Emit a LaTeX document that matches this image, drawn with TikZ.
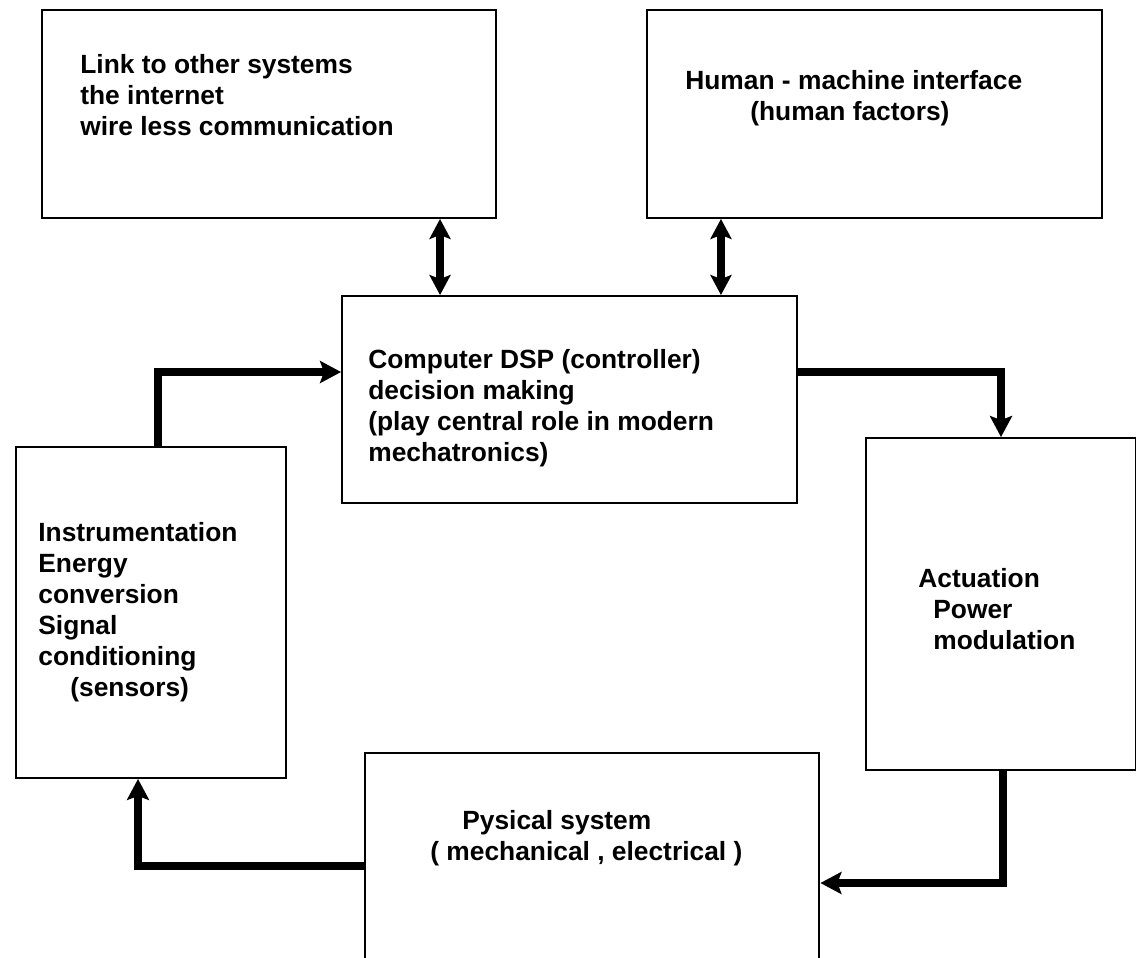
\documentclass[tikz,border=0pt]{standalone}
\usepackage{fontspec}
\setmainfont{Liberation Sans}
\usetikzlibrary{arrows.meta}
\begin{document}
\begin{tikzpicture}[x=0.02cm,y=-0.02cm,
	box/.style={draw,line width=1.1pt,minimum width=9.1cm,inner sep=0pt},
	txt/.style={inner sep=0pt,anchor=base west,align=left,font=\fontsize{15}{17.6}\selectfont\bfseries},
	flow/.style={line width=4.5pt,-{Stealth[length=0.42cm,width=0.44cm,inset=0.08cm]}},
	dflow/.style={line width=4.5pt,{Stealth[length=0.4cm,width=0.42cm,inset=0.08cm]}-{Stealth[length=0.4cm,width=0.42cm,inset=0.08cm]}}]
	\useasboundingbox (0,0) rectangle (1136,957);
	\clip (0,0) rectangle (1136,957);

	% boxes
	\node[box,minimum height=4.16cm] (link) at (269,114) {};
	\node[box,minimum height=4.16cm] (hmi) at (874.5,114) {};
	\node[box,minimum height=4.14cm] (cpu) at (569.5,399.5) {};
	\node[box,minimum width=5.4cm,minimum height=6.62cm] (sensor) at (151,612.5) {};
	\node[box,minimum width=5.4cm,minimum height=6.64cm] (actuator) at (1001,604) {};
	\node[box,minimum height=4.94cm] (plant) at (592,876.5) {};

	% texts (base = last line)
	\node[txt] (linktxt) at (80,135) {Link to other systems\\the internet\\wire less communication};
	\node[txt] (hmitxt) at (685,120) {Human - machine interface\\\hspace*{1.3cm}(human factors)};
	\node[txt] (cputxt) at (368,461) {Computer DSP (controller)\\decision making\\(play central role in modern\\mechatronics)};
	\node[txt] (sensortxt) at (38,696) {Instrumentation\\Energy\\conversion\\Signal\\conditioning\\\hspace*{0.64cm}(sensors)};
	\node[txt] (actuatortxt) at (918,649) {Actuation\\\hspace*{0.3cm}Power\\\hspace*{0.3cm}modulation};
	\node[txt] (planttxt) at (430,860) {\hspace*{0.64cm}Pysical system\\( mechanical , electrical )};

	% connectors
	\draw[dflow] ([xshift=-2.59cm]cpu.north) -- ([xshift=-2.59cm]cpu.north |- link.south);
	\draw[dflow] ([xshift=3.03cm]cpu.north) -- ([xshift=3.03cm]cpu.north |- hmi.south);
	\draw[flow] ([xshift=0.14cm]sensor.north) |- ([yshift=0.55cm]cpu.west);
	\draw[flow] ([yshift=0.55cm]cpu.east) -| (actuator.north);
	\draw[flow] ([xshift=0.04cm]actuator.south) |- ([yshift=-0.13cm]plant.east);
	\draw[flow] ([yshift=0.21cm]plant.west) -| ([xshift=-0.26cm]sensor.south);
\end{tikzpicture}
\end{document}
